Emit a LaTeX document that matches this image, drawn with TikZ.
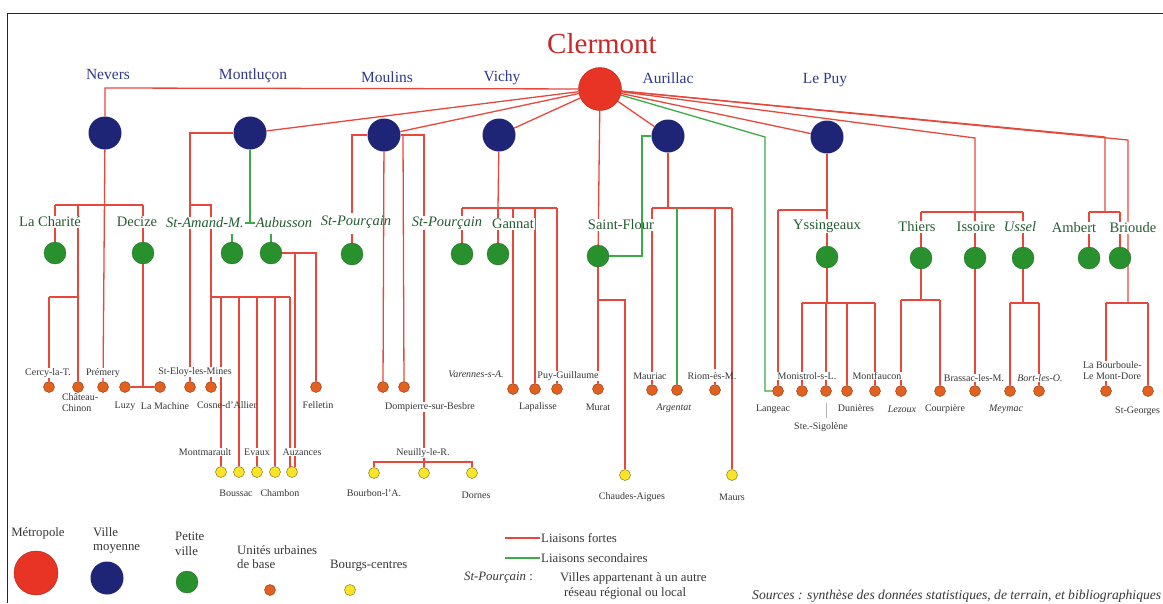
\documentclass[tikz,border=0pt]{standalone}
\usepackage{fontspec}
\setmainfont{Liberation Serif}
\pgfdeclarelayer{bg}
\pgfdeclarelayer{fg}
\pgfsetlayers{bg,main,fg}
\definecolor{lred}{RGB}{232,72,60}
\definecolor{lgreen}{RGB}{60,170,70}
\definecolor{cred}{RGB}{232,52,36}
\definecolor{navy}{RGB}{30,36,118}
\definecolor{pvgreen}{RGB}{40,145,45}
\definecolor{orng}{RGB}{226,96,32}
\definecolor{yel}{RGB}{250,228,40}
\definecolor{tgreen}{RGB}{36,92,50}
\definecolor{tnavy}{RGB}{48,58,138}
\definecolor{tred}{RGB}{200,40,40}
\definecolor{tgray}{RGB}{55,55,55}
\definecolor{framec}{RGB}{40,40,40}
\tikzset{
 rl/.style={draw=lred, line width=1.3pt},
 gl/.style={draw=lgreen, line width=1.3pt},
 metro/.style={circle, fill=cred, draw=cred!75!black, line width=0.4pt, minimum size=43pt, inner sep=0pt},
 vm/.style={circle, fill=navy, minimum size=33pt, inner sep=0pt},
 pv/.style={circle, fill=pvgreen, draw=pvgreen!70!black, line width=0.3pt, minimum size=22pt, inner sep=0pt},
 ub/.style={circle, fill=orng, draw=orng!60!black, line width=0.4pt, minimum size=11pt, inner sep=0pt},
 bc/.style={circle, fill=yel, draw=yel!45!black, line width=0.4pt, minimum size=11pt, inner sep=0pt},
 glab/.style={font=\fontsize{14.5}{16}\selectfont, text=tgreen, fill=white, inner sep=1pt},
 nlab/.style={font=\fontsize{15.5}{18}\selectfont, text=tnavy, inner sep=0pt},
 slab/.style={font=\fontsize{10}{11}\selectfont, text=tgray, fill=white, inner sep=0.8pt},
 slabn/.style={font=\fontsize{10}{11}\selectfont, text=tgray, inner sep=0.8pt},
 leg/.style={font=\fontsize{12.8}{14.5}\selectfont, text=tgray, inner sep=0pt},
}
\begin{document}
\begin{tikzpicture}[x=1pt,y=-1pt]
\useasboundingbox (0,0) rectangle (1163,603);
\begin{pgfonlayer}{bg}
\fill[white] (0,0) rectangle (1163,603);
\end{pgfonlayer}
\draw[framec, line width=1pt] (7,603) -- (7,13) -- (1163,13);

% title and regional labels
\node[font=\fontsize{29}{32}\selectfont, text=tred] (title) at (602,44) {Clermont};
\node[nlab] (nevL) at (108,74) {Nevers};
\node[nlab] (mtlL) at (253,76) {Montluçon};
\node[nlab] (mouL) at (387,77) {Moulins};
\node[nlab] (vicL) at (502,78) {Vichy};
\node[nlab] (aurL) at (668,78) {Aurillac};
\node[nlab] (lpyL) at (825,80) {Le Puy};

% metropole and villes moyennes
\node[metro] (cl) at (600,89) {};
\node[vm] (nev) at (105,133) {};
\node[vm] (mtl) at (250,133) {};
\node[vm] (mou) at (384,135) {};
\node[vm] (vic) at (499,135) {};
\node[vm] (aur) at (668,136) {};
\node[vm] (lpy) at (827,137) {};

% petites villes
\node[pv] (lch) at (55,253) {};
\node[pv] (dec) at (143,253) {};
\node[pv] (sam) at (232,253) {};
\node[pv] (aub) at (271,253) {};
\node[pv] (sp1) at (352,254) {};
\node[pv] (sp2) at (462,254) {};
\node[pv] (gan) at (498,254) {};
\node[pv] (sfl) at (598,256) {};
\node[pv] (yss) at (827,257) {};
\node[pv] (thi) at (921,258) {};
\node[pv] (iss) at (975,258) {};
\node[pv] (uss) at (1023,258) {};
\node[pv] (amb) at (1089,258) {};
\node[pv] (bri) at (1120,258) {};

\node[glab] (lchL) at (50,222) {La Charité};
\node[glab] (decL) at (137,222) {Decize};
\node[glab] (samL) at (205,223) {\textit{St-Amand-M.}};
\node[glab] (aubL) at (284,223) {\textit{Aubusson}};
\node[glab, fill=none] (sp1L) at (356,222) {\textit{St-Pourçain}};
\node[glab] (sp2L) at (447,223) {\textit{St-Pourçain}};
\node[glab] (ganL) at (513,224) {Gannat};
\node[glab] (sflL) at (621,225) {Saint-Flour};
\node[glab] (yssL) at (827,226) {Yssingeaux};
\node[glab] (thiL) at (917,227) {Thiers};
\node[glab] (issL) at (976,227) {Issoire};
\node[glab] (ussL) at (1020,227) {\textit{Ussel}};
\node[glab] (ambL) at (1074,228) {Ambert};
\node[glab] (briL) at (1133,228) {Brioude};

% unites urbaines de base
\node[ub] (cer) at (49,387) {};
\node[ub] (chc) at (78,387) {};
\node[ub] (pre) at (103,387) {};
\node[ub] (luz) at (125,387) {};
\node[ub] (lma) at (160,387) {};
\node[ub] (sel) at (190,387) {};
\node[ub] (cos) at (211,387) {};
\node[ub] (fel) at (316,387) {};
\node[ub] (do1) at (383,387) {};
\node[ub] (do2) at (404,387) {};
\node[ub] (var) at (513,389) {};
\node[ub] (lap) at (535,389) {};
\node[ub] (puy) at (557,389) {};
\node[ub] (mur) at (598,389) {};
\node[ub] (mau) at (652,390) {};
\node[ub] (arg) at (677,390) {};
\node[ub] (rio) at (715,390) {};
\node[ub] (lan) at (778,391) {};
\node[ub] (mon) at (802,391) {};
\node[ub] (ssg) at (826,391) {};
\node[ub] (dun) at (847,391) {};
\node[ub] (mfc) at (875,391) {};
\node[ub] (lez) at (901,391) {};
\node[ub] (cou) at (940,391) {};
\node[ub] (bra) at (975,391) {};
\node[ub] (mey) at (1010,391) {};
\node[ub] (bor) at (1039,391) {};
\node[ub] (lbb) at (1106,391) {};
\node[ub] (stg) at (1148,391) {};

% bourgs-centres
\node[bc] (b1) at (221,472) {};
\node[bc] (b2) at (239,472) {};
\node[bc] (b3) at (257,472) {};
\node[bc] (b4) at (275,472) {};
\node[bc] (b5) at (292,472) {};
\node[bc] (bou) at (374,473) {};
\node[bc] (neu) at (424,473) {};
\node[bc] (dor) at (472,473) {};
\node[bc] (cha) at (625,475) {};
\node[bc] (mrs) at (732,475) {};

% small labels
\node[slab] (cerL) at (48,373) {Cercy-la-T.};
\node[slab, align=left, anchor=north west] (chcL) at (61,393) {Château-\\Chinon};
\node[slab] (preL) at (103,373) {Prémery};
\node[slab] (luzL) at (125,406) {Luzy};
\node[slab] (lmaL) at (165,406) {La Machine};
\node[slab] (selL) at (195,372) {St-Eloy-les-Mines};
\node[slabn] (cosL) at (227,405) {Cosne-d'Allier};
\node[slab] (felL) at (318,405) {Felletin};
\node[slab] (b1L) at (205,452) {Montmarault};
\node[slab] (b3L) at (257,452) {Evaux};
\node[slab] (b5L) at (302,452) {Auzances};
\node[slab] (b2L) at (236,493) {Boussac};
\node[slab] (b4L) at (280,493) {Chambon};
\node[slab] (bouL) at (374,493) {Bourbon-l'A.};
\node[slab] (doL) at (430,407) {Dompierre-sur-Besbre};
\node[slab] (neuL) at (423,453) {Neuilly-le-R.};
\node[slab] (dorL) at (476,495) {Dornes};
\node[slab] (varL) at (476,374) {\textit{Varennes-s-A.}};
\node[slab] (puyL) at (568,376) {Puy-Guillaume};
\node[slab] (lapL) at (538,407) {Lapalisse};
\node[slab] (murL) at (598,407) {Murat};
\node[slab] (mauL) at (650,376) {Mauriac};
\node[slab] (argL) at (674,408) {\textit{Argentat}};
\node[slabn] (rioL) at (712,376) {Riom-ès-M.};
\node[slab] (chaL) at (632,497) {Chaudes-Aigues};
\node[slab] (mrsL) at (732,497) {Maurs};
\node[slab] (lanL) at (773,409) {Langeac};
\node[slab] (monL) at (807,376) {Monistrol-s-L.};
\node[slab] (ssgL) at (821,427) {Ste.-Sigolène};
\node[slab] (dunL) at (856,408) {Dunières};
\node[slab] (mfcL) at (877,376) {Montfaucon};
\node[slab] (lezL) at (902,409) {\textit{Lezoux}};
\node[slab] (couL) at (945,409) {Courpière};
\node[slab] (braL) at (974,378) {Brassac-les-M.};
\node[slab] (borL) at (1040,378) {\textit{Bort-les-O.}};
\node[slab] (meyL) at (1006,409) {\textit{Meymac}};
\node[slab, align=left, anchor=north west] (lbbL) at (1082,361) {La Bourboule-\\Le Mont-Dore};
\node[slab, anchor=east] (stgL) at (1161,411) {St-Georges};

% connectors
\begin{pgfonlayer}{bg}
% Nevers
\draw[rl] (cl) -- (105,88) -- (nev);
\draw[rl] (nev) -- (pre);
\draw[rl] (55,205) -- (143,205);
\draw[rl] (55,205) -- (lch);
\draw[rl] (143,205) -- (dec) -- (143,387);
\draw[rl] (luz) -- (lma);
\draw[rl] (78,205) -- (chc);
\draw[rl] (49,297) -- (78,297);
\draw[rl] (49,297) -- (cer);
% Montlucon
\draw[rl] (cl) -- (mtl);
\draw[rl] (mtl) -- (190,133) -- (sel);
\draw[rl] (190,205) -- (211,205) -- (cos);
\draw[rl] (211,297) -- (290,297);
\draw[rl] (221,297) -- (b1);
\draw[rl] (239,297) -- (b2);
\draw[rl] (257,297) -- (b3);
\draw[rl] (275,297) -- (b4);
\draw[rl] (290,297) -- (290,467);
\draw[rl] (aub) -- (316,253) -- (fel);
\draw[rl] (295,253) -- (295,467);
\draw[gl] (mtl) -- (250,223);
\draw[gl] (245,223) -- (255,223);
\draw[gl] (232,234) -- (sam);
\draw[gl] (271,234) -- (aub);
% Moulins
\draw[rl] (cl) -- (mou);
\draw[rl] (mou) -- (352,135) -- (352,213);
\draw[rl] (352,234) -- (sp1);
\draw[rl] (mou) -- (do1);
\draw[rl] (mou) -- (424,135) -- (neu);
\draw[rl] (403,135) -- (do2);
\draw[rl] (bou) -- (374,462) -- (472,462) -- (dor);
% Vichy
\draw[rl] (cl) -- (vic);
\draw[rl] (vic) -- (498,208);
\draw[rl] (462,208) -- (557,208);
\draw[rl] (462,208) -- (sp2);
\draw[rl] (498,208) -- (gan);
\draw[rl] (513,208) -- (var);
\draw[rl] (535,208) -- (lap);
\draw[rl] (557,208) -- (puy);
% Saint-Flour
\draw[rl] (cl) -- (sfl);
\draw[rl] (sfl) -- (mur);
\draw[rl] (598,300) -- (625,300) -- (cha);
% Aurillac
\draw[rl] (cl) -- (aur);
\draw[rl] (aur) -- (668,208);
\draw[rl] (652,208) -- (732,208);
\draw[rl] (652,208) -- (mau);
\draw[gl] (677,208) -- (arg);
\draw[rl] (715,208) -- (715,369);
\draw[rl] (715,382) -- (rio);
\draw[rl] (732,208) -- (mrs);
% Langeac (secondary)
\draw[gl] (cl) -- (765,137) -- (765,391) -- (lan);
% Le Puy
\draw[rl] (cl) -- (lpy);
\draw[rl] (lpy) -- (yss);
\draw[rl] (778,210) -- (827,210);
\draw[rl] (778,210) -- (lan);
\draw[rl] (yss) -- (827,303);
\draw[rl] (802,303) -- (875,303);
\draw[rl] (802,303) -- (mon);
\draw[rl] (826,303) -- (ssg);
\draw[rl] (847,303) -- (dun);
\draw[rl] (875,303) -- (mfc);
\draw[gray!60, line width=0.6pt] (826,403) -- (826,418);
% Thiers / Issoire / Ussel
\draw[rl] (cl) -- (975,138) -- (975,212);
\draw[rl] (921,212) -- (1023,212);
\draw[rl] (921,212) -- (thi);
\draw[rl] (975,212) -- (iss);
\draw[rl] (1023,212) -- (uss);
\draw[rl] (thi) -- (921,300);
\draw[rl] (901,300) -- (940,300);
\draw[rl] (901,300) -- (lez);
\draw[rl] (940,300) -- (cou);
\draw[rl] (iss) -- (bra);
\draw[rl] (uss) -- (1023,303);
\draw[rl] (1010,303) -- (1039,303);
\draw[rl] (1010,303) -- (mey);
\draw[rl] (1039,303) -- (bor);
% Ambert / Brioude
\draw[rl] (cl) -- (1105,137) -- (1105,212);
\draw[rl] (1089,212) -- (1120,212);
\draw[rl] (1089,212) -- (amb);
\draw[rl] (1120,212) -- (bri);
\draw[rl] (cl) -- (1128,140) -- (1128,303);
\draw[rl] (1106,303) -- (1148,303);
\draw[rl] (1106,303) -- (lbb);
\draw[rl] (1148,303) -- (stg);
\end{pgfonlayer}
\begin{pgfonlayer}{fg}
\draw[gl] (aur) -- (642,136) -- (642,256) -- (sfl);
\end{pgfonlayer}

% legend
\node[metro, minimum size=44pt] (lgm) at (36,573) {};
\node[leg] (lgmL) at (38,533) {Métropole};
\node[vm] (lgv) at (107,578) {};
\node[leg, align=left, anchor=north west] (lgvL) at (93,527) {Ville\\moyenne};
\node[pv] (lgp) at (187,582) {};
\node[leg, align=left, anchor=north west] (lgpL) at (175,532) {Petite\\ville};
\node[ub] (lgu) at (270,590) {};
\node[leg, align=left, anchor=north west] (lguL) at (237,545) {Unités urbaines\\de base};
\node[bc] (lgb) at (350,590) {};
\node[leg, anchor=west] (lgbL) at (330,566) {Bourgs-centres};
\coordinate (lr1) at (505,538);
\coordinate (lr2) at (540,538);
\draw[rl] (lr1) -- (lr2);
\node[leg, anchor=west] (lrL) at (541,538) {Liaisons fortes};
\coordinate (lg1) at (505,558);
\coordinate (lg2) at (540,558);
\draw[gl] (lg1) -- (lg2);
\node[leg, anchor=west] (lgL) at (541,558) {Liaisons secondaires};
\node[leg, anchor=west] (lsp) at (464,578) {\textit{St-Pourçain} :};
\node[leg, anchor=west] (lsp1) at (560,578) {Villes appartenant à un autre};
\node[leg, anchor=west] (lsp2) at (564,593) {réseau régional ou local};
\node[leg, anchor=west, font=\fontsize{13.6}{15}\selectfont] (src) at (752,596) {\textit{Sources : synthèse des données statistiques, de terrain,  et bibliographiques}};
\end{tikzpicture}
\end{document}
